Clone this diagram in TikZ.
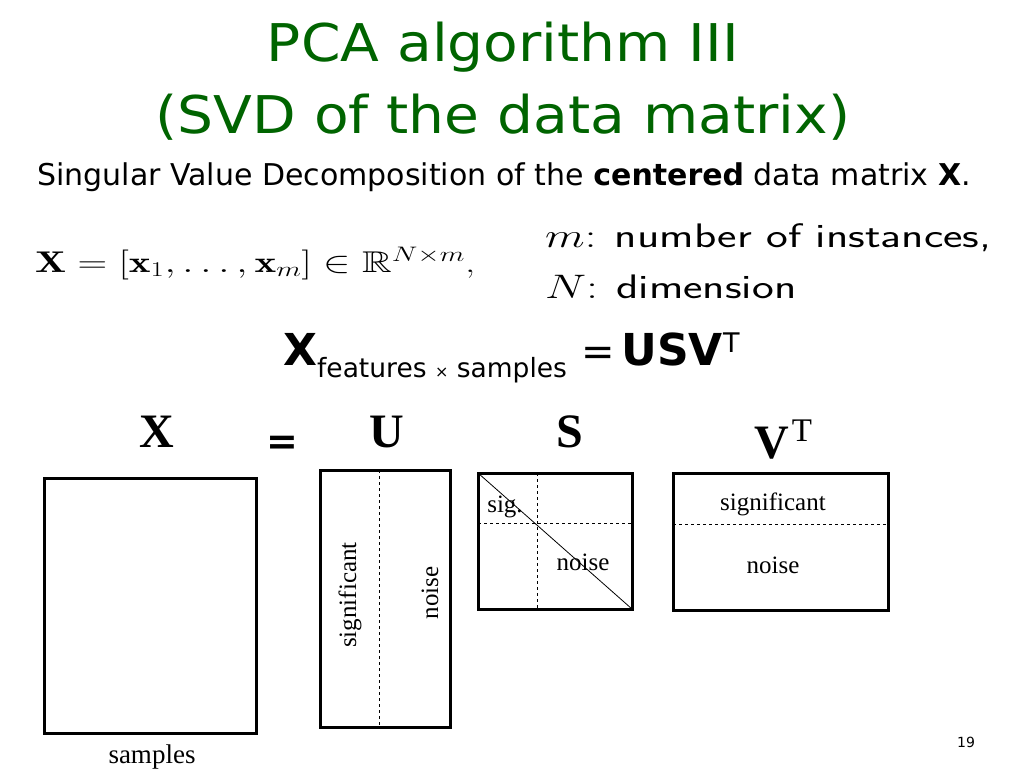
\RequirePackage{fix-cm}
\documentclass[tikz,border=0pt]{standalone}
\usepackage{amsmath}
\usepackage{amssymb}
\usepackage{graphicx}
\usepackage{fontspec}
\usetikzlibrary{calc}
\newfontfamily\tahoma{DejaVu Sans}
\newfontfamily\tahomawide[FakeStretch=1.09]{DejaVu Sans}
\newfontfamily\timesfont{Liberation Serif}
\definecolor{Title}{RGB}{0,100,0}
\newcommand{\stretchx}[2][1.37]{\scalebox{#1}[1]{#2}}

\begin{document}
\begin{tikzpicture}[x=1pt, y=-1pt,
    titletext/.style={text=Title, inner sep=0pt, anchor=base, font=\tahomawide\fontsize{52}{60}\selectfont},
    bodytext/.style={inner sep=0pt, anchor=base west, font=\tahoma\fontsize{30}{34}\selectfont},
    mathtext/.style={inner sep=0pt, anchor=base west, font=\fontsize{30}{36}\selectfont},
    sanstext/.style={inner sep=0pt, anchor=base west, font=\fontsize{34}{40}\selectfont},
    bigletter/.style={inner sep=0pt, anchor=base, font=\timesfont\bfseries\fontsize{48}{50}\selectfont},
    celltext/.style={inner sep=0pt, anchor=base, font=\timesfont\fontsize{25}{30}\selectfont},
    matbox/.style={draw, line width=3pt, inner sep=0pt, outer sep=0pt},
    splitline/.style={dashed, line width=0.8pt},
    diagline/.style={line width=0.8pt}
  ]
  \useasboundingbox[fill=white] (0,0) rectangle (1024,768);

  % heading
  \node[titletext] (title1) at (503,62) {PCA algorithm III};
  \node[titletext] (title2) at (503,133) {(SVD of the data matrix)};
  \node[bodytext] (intro) at (37,185) {Singular Value Decomposition of the \textbf{centered} data matrix \textbf{X}.};

  % definitions
  \node[mathtext] (defX) at (35,272) {\stretchx{$\mathbf{X}=[\mathbf{x}_1,\ldots,\mathbf{x}_m]\in\mathbb{R}^{N\times m}$,}};
  \node[sanstext] (instm) at (545,247) {\stretchx[1.36]{$m$: \textsf{number of instances,}}};
  \node[sanstext] (dimN) at (545,298) {\stretchx[1.36]{$N$: \textsf{dimension}}};

  % X = USV^T
  \node[inner sep=0pt, anchor=base west, font=\tahoma\fontsize{44}{48}\selectfont] (svdeq) at (283,365)
    {\textbf{X}\raisebox{-12pt}{\fontsize{26.5}{27}\selectfont features {\fontsize{16}{16}\selectfont ×} samples}\hspace{14pt}{\fontsize{40}{40}\selectfont =}\hspace{7pt}\textbf{USV}\raisebox{13pt}{\fontsize{27}{27}\selectfont T}};

  % matrix names
  \node[bigletter] (lblX) at (157,447) {X};
  \node[inner sep=0pt, anchor=base, font=\tahoma\bfseries\fontsize{38}{40}\selectfont] (lblEq) at (282,454) {=};
  \node[bigletter] (lblU) at (387,447) {U};
  \node[bigletter] (lblS) at (570,447) {S};
  \node[bigletter] (lblV) at (783,458) {V\hspace{3pt}\raisebox{17pt}{\mdseries\fontsize{33}{33}\selectfont T}};

  % matrices
  \node[matbox, minimum width=212pt, minimum height=255pt] (Xbox) at (150,605.5) {};
  \node[matbox, minimum width=130pt, minimum height=257pt] (Ubox) at (385,598.5) {};
  \node[matbox, minimum width=154pt, minimum height=136pt] (Sbox) at (555,541) {};
  \node[matbox, minimum width=215pt, minimum height=137pt] (Vbox) at (780.5,541.5) {};

  \draw[splitline] ($(Ubox.north west)!0.46!(Ubox.north east)$) -- ($(Ubox.south west)!0.46!(Ubox.south east)$);
  \draw[splitline] ($(Sbox.north west)!0.383!(Sbox.north east)$) -- ($(Sbox.south west)!0.383!(Sbox.south east)$);
  \draw[splitline] ($(Sbox.north west)!0.368!(Sbox.south west)$) -- ($(Sbox.north east)!0.368!(Sbox.south east)$);
  \draw[diagline] (Sbox.north west) -- (Sbox.south east);
  \draw[splitline] ($(Vbox.north west)!0.372!(Vbox.south west)$) -- ($(Vbox.north east)!0.372!(Vbox.south east)$);

  % block labels
  \node[celltext, anchor=center, rotate=90] (Usig) at (350,595) {significant};
  \node[celltext, anchor=center, rotate=90] (Unoise) at (430,593) {noise};
  \node[celltext] (Ssig) at (505,512) {sig.};
  \node[celltext] (Snoise) at (583,570) {noise};
  \node[celltext] (Vsig) at (773,510) {significant};
  \node[celltext] (Vnoise) at (773,573) {noise};
  \node[celltext, font=\timesfont\fontsize{27}{30}\selectfont] (samples) at (152,763) {samples};

  \node[inner sep=0pt, font=\tahoma\fontsize{14}{16}\selectfont] (pagenum) at (966,742) {19};
\end{tikzpicture}
\end{document}
